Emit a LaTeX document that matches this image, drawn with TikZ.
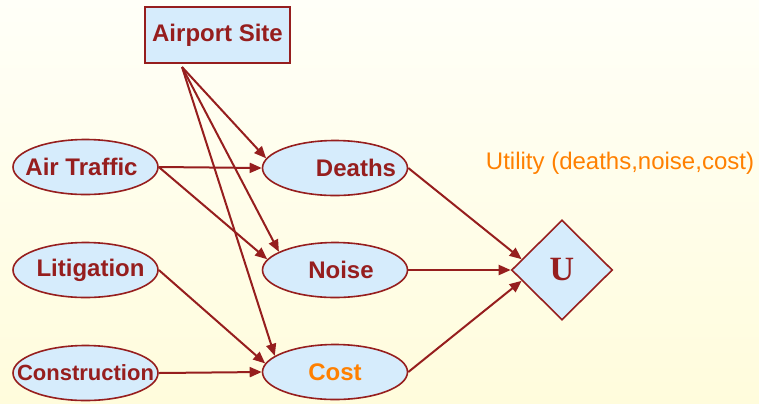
\documentclass[tikz,border=0pt]{standalone}
\usepackage{fontspec}
\setmainfont{Liberation Sans}
\newfontfamily\utilfont{Liberation Serif}
\usetikzlibrary{positioning, shapes.geometric, arrows.meta}

\definecolor{linkred}{RGB}{150,30,30}
\definecolor{nodeblue}{RGB}{214,236,252}
\definecolor{utilorange}{RGB}{255,128,0}
\definecolor{bgtop}{RGB}{255,255,248}
\definecolor{bgbottom}{RGB}{255,252,220}

\begin{document}
\begin{tikzpicture}[
    x=0.5pt, y=-0.5pt,
    font=\fontsize{12}{14}\selectfont\bfseries,
    chance_node/.style={ellipse, draw=linkred, fill=nodeblue, line width=0.8pt, minimum width=72.5pt, minimum height=27.5pt, inner sep=0pt, text=linkred},
    decision_node/.style={rectangle, draw=linkred, fill=nodeblue, line width=1.2pt, minimum width=72.5pt, minimum height=28pt, inner sep=0pt, text=linkred},
    utility_node/.style={diamond, draw=linkred, fill=nodeblue, line width=0.8pt, minimum width=50.5pt, minimum height=50pt, inner sep=0pt, text=linkred},
    link_arrow/.style={-{Triangle[length=6pt, width=5pt]}, line width=1pt, linkred}
]

% Background
\shade[top color=bgtop, bottom color=bgbottom] (0,0) rectangle (759,403);
\useasboundingbox (0,0) rectangle (759,403);

% Top: decision node
\node[decision_node] (site) at (217.5, 35) {Airport Site};
\coordinate (site_out) at (182, 67);

% Left column: causes
\node[chance_node] (traffic) at (85.5, 167) {\makebox[0pt]{\hspace{-4pt}Air Traffic}};
\node[chance_node] (litigation) at (85.5, 270) {\makebox[0pt]{\hspace{5pt}Litigation}};
\node[chance_node, font=\fontsize{11}{13}\selectfont\bfseries] (construction) at (85.5, 373) {\makebox[0pt]{Construction}};

% Middle column: outcomes
\node[chance_node] (deaths) at (335, 168) {\makebox[0pt]{\hspace{21pt}Deaths}};
\node[chance_node] (noise) at (335, 270) {\makebox[0pt]{\hspace{6pt}Noise}};
\node[chance_node, text=utilorange] (cost) at (335, 372) {\makebox[0pt]{Cost}};

% Right: utility
\node[utility_node, font=\utilfont\fontsize{17}{19}\selectfont\bfseries] (util) at (562, 270) {U};
\node[font=\fontsize{12}{14}\selectfont, text=utilorange] (util_label) at (620, 163) {Utility (deaths,noise,cost)};

% Arrows
% From airport site
\draw[link_arrow] (site_out) -- (deaths.172);
\draw[link_arrow] (site_out) -- (noise.162);
\draw[link_arrow] (site_out) -- (cost.165);

% From air traffic
\draw[link_arrow] (traffic.east) -- (deaths.west);
\draw[link_arrow] (traffic.east) -- (noise.171);

% Into cost
\draw[link_arrow] (litigation.east) -- (cost.173);
\draw[link_arrow] (construction.east) -- (cost.west);

% Into utility
\draw[link_arrow] (deaths.east) -- (util.165);
\draw[link_arrow] (noise.east) -- (util.west);
\draw[link_arrow] (cost.east) -- (util.195);

\end{tikzpicture}
\end{document}
